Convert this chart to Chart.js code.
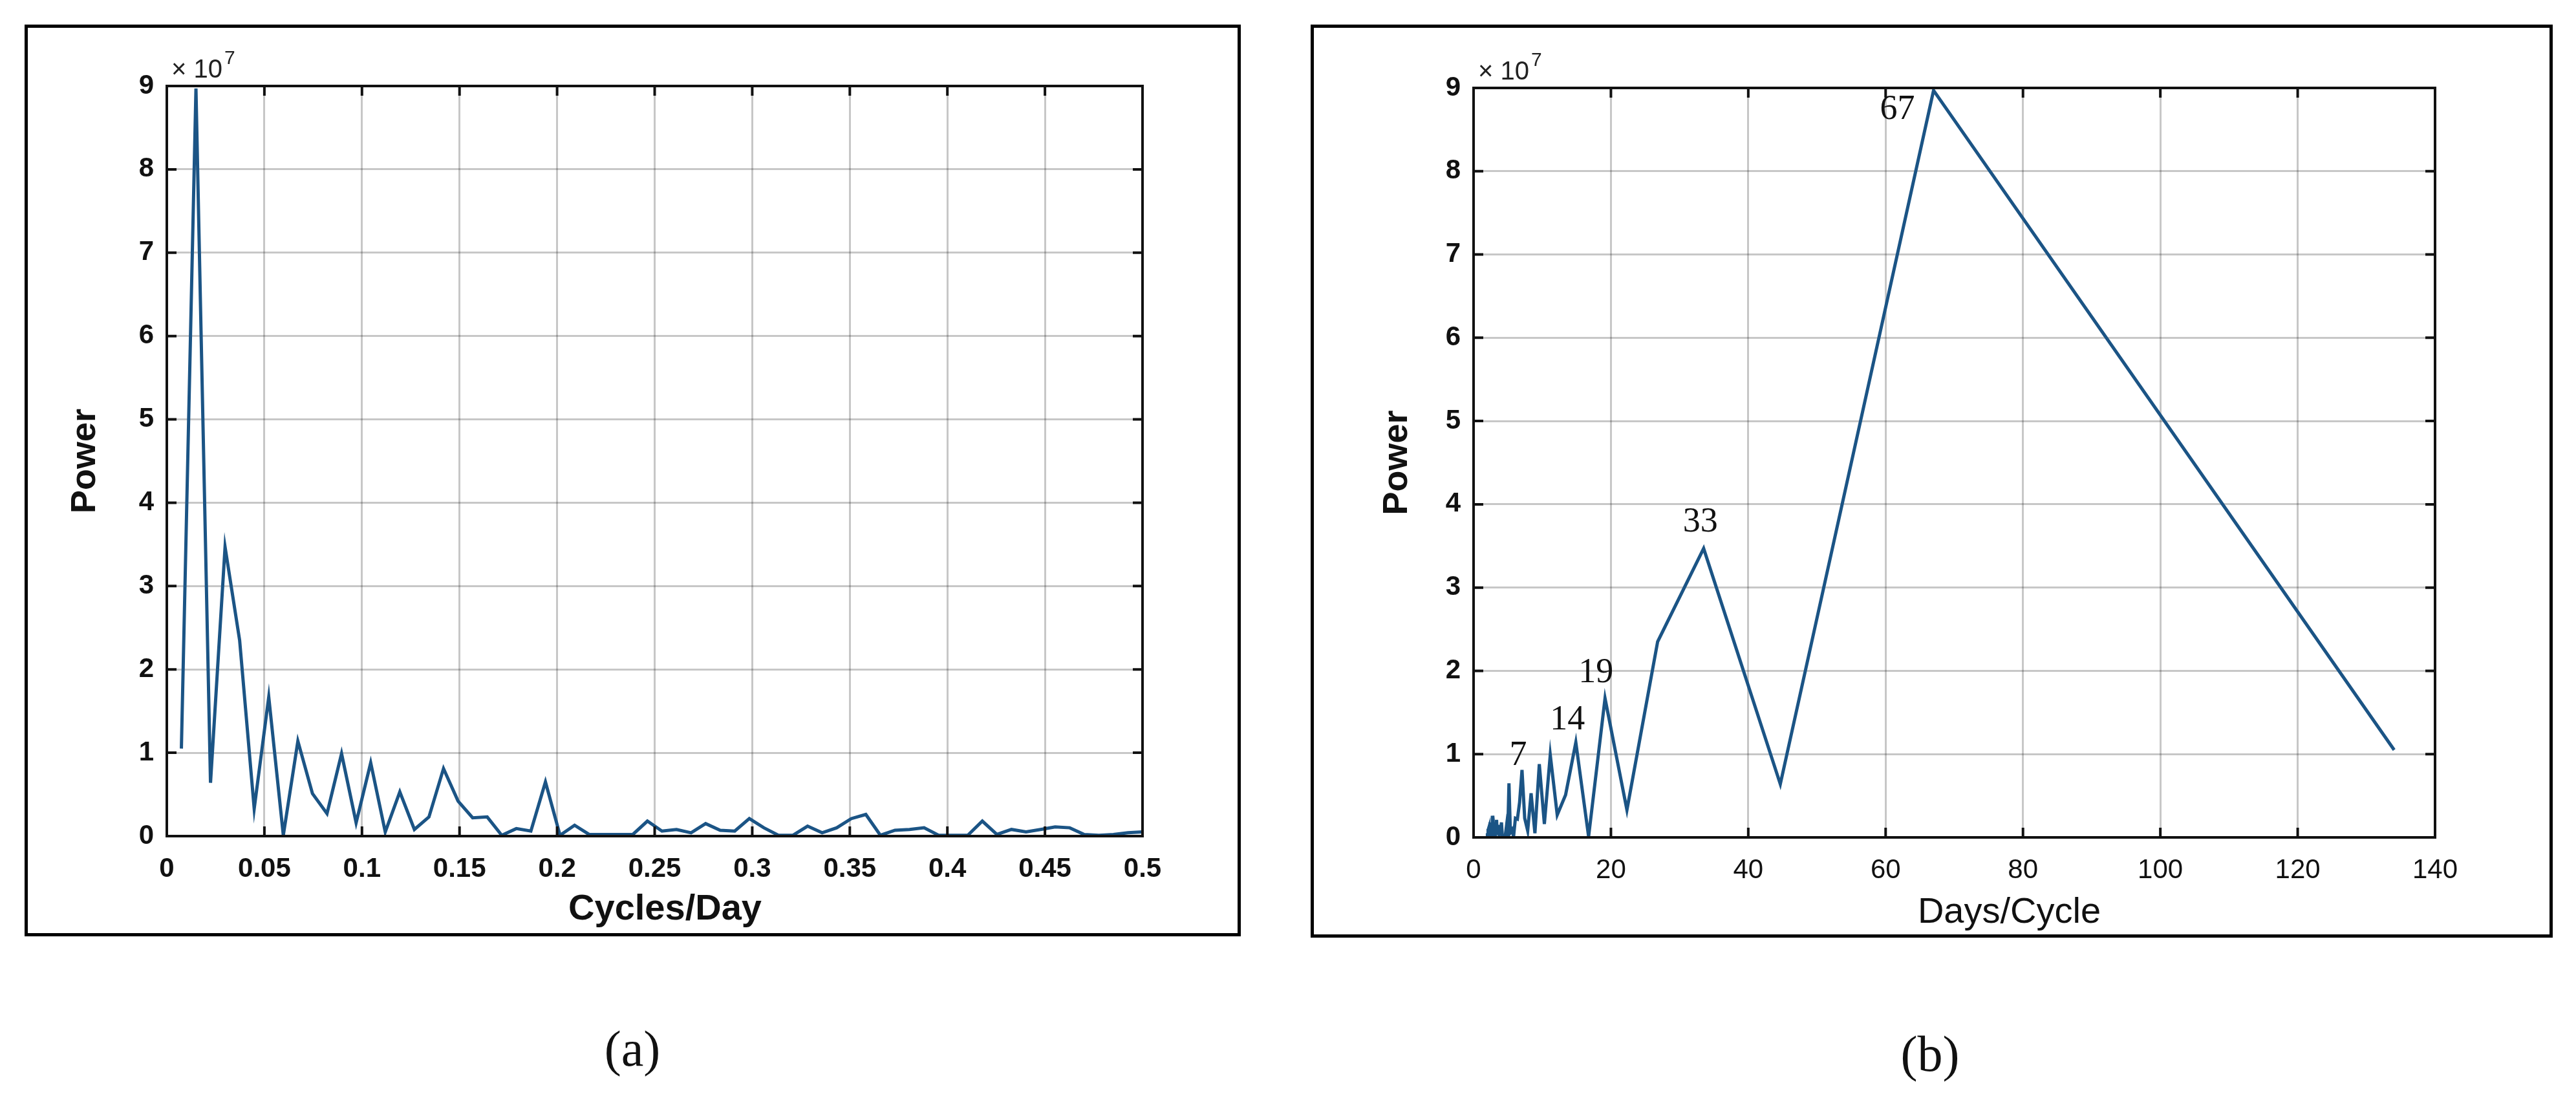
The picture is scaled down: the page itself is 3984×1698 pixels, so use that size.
<!DOCTYPE html>
<html>
<head>
<meta charset="utf-8">
<script src="https://cdn.jsdelivr.net/npm/chart.js@4.4.0/dist/chart.umd.min.js"></script>
<style>
  html, body { margin: 0; padding: 0; background: #fff; }
  body { width: 3984px; height: 1698px; position: relative; overflow: hidden; }
  .frame { position: absolute; border: 5px solid #000; box-sizing: border-box; }
  .wrap { position: absolute; top: 0; }
  .caption { position: absolute; font-family: "Liberation Serif", "Times New Roman", serif; font-size: 78px; color: #111; transform: translate(-50%, -50%); }
</style>
</head>
<body>
<div class="frame" style="left:38px;top:38px;width:1881px;height:1410px"></div>
<div class="frame" style="left:2027px;top:38px;width:1921px;height:1412px"></div>
<div class="wrap" style="left:0;width:1990px;height:1480px"><canvas id="freqChart" width="1990" height="1480" style="width:1990px;height:1480px"></canvas></div>
<div class="wrap" style="left:2000px;width:1984px;height:1480px"><canvas id="periodChart" width="1984" height="1480" style="width:1984px;height:1480px"></canvas></div>
<div class="caption" style="left:978px;top:1622px">(a)</div>
<div class="caption" style="left:2985px;top:1630px">(b)</div>
<script>
// Periodogram points, Cycles/Day
var frequencies = [
  0.00746, 0.01493, 0.02239, 0.02985, 0.03731, 0.04478, 0.05224, 0.05970, 0.06716, 0.07463,
  0.08209, 0.08955, 0.09701, 0.10448, 0.11194, 0.11940, 0.12687, 0.13433, 0.14179, 0.14925,
  0.15672, 0.16418, 0.17164, 0.17910, 0.18657, 0.19403, 0.20149, 0.20896, 0.21642, 0.22388,
  0.23134, 0.23881, 0.24627, 0.25373, 0.26119, 0.26866, 0.27612, 0.28358, 0.29104, 0.29851,
  0.30597, 0.31343, 0.32090, 0.32836, 0.33582, 0.34328, 0.35075, 0.35821, 0.36567, 0.37313,
  0.38060, 0.38806, 0.39552, 0.40299, 0.41045, 0.41791, 0.42537, 0.43284, 0.44030, 0.44776,
  0.45522, 0.46269, 0.47015, 0.47761, 0.48507, 0.49254, 0.50000
];

// Power at each frequency
var powers = [
  1.05e7, 8.97e7, 0.64e7, 3.47e7, 2.35e7, 0.33e7, 1.67e7, 0.01e7, 1.14e7, 0.51e7,
  0.27e7, 0.99e7, 0.16e7, 0.88e7, 0.05e7, 0.53e7, 0.08e7, 0.23e7, 0.81e7, 0.42e7,
  0.22e7, 0.23e7, 0.01e7, 0.09e7, 0.06e7, 0.65e7, 0.01e7, 0.13e7, 0.02e7, 0.02e7,
  0.02e7, 0.02e7, 0.18e7, 0.06e7, 0.08e7, 0.04e7, 0.15e7, 0.07e7, 0.06e7, 0.21e7,
  0.10e7, 0.01e7, 0.01e7, 0.12e7, 0.04e7, 0.10e7, 0.21e7, 0.26e7, 0.01e7, 0.07e7,
  0.08e7, 0.10e7, 0.01e7, 0.01e7, 0.01e7, 0.18e7, 0.02e7, 0.08e7, 0.05e7, 0.08e7,
  0.11e7, 0.10e7, 0.02e7, 0.01e7, 0.02e7, 0.04e7, 0.05e7
];

// Days/Cycle is just the reciprocal of Cycles/Day
var periods = frequencies.map(function(f){ return 1 / f; });

var yTickLabels = ['0', '1', '2', '3', '4', '5', '6', '7', '8', '9'];
var freqTickLabels = ['0', '0.05', '0.1', '0.15', '0.2', '0.25', '0.3', '0.35', '0.4', '0.45', '0.5'];
var periodTickLabels = ['0', '20', '40', '60', '80', '100', '120', '140'];

// labelled peaks in panel (b)
var peakLabels = ['67', '33', '19', '14', '7'];
var peakIndex = [1, 3, 6, 8, 18];

var SANS = '"Liberation Sans", Arial, sans-serif';
var SERIF = '"Liberation Serif", "Times New Roman", serif';
Chart.defaults.font.family = SANS;
Chart.defaults.color = '#111';

var peakOffsets = [[-56, 30], [-5, -40], [-14, -39], [-13, -34], [-6, -22]];

var axesDecor = {
  id: 'axesDecor',
  afterDraw: function(chart, args, opts) {
    var ctx = chart.ctx, a = chart.chartArea;
    var xs = chart.scales.x, ys = chart.scales.y;
    ctx.save();

    // box round the plot + inward ticks
    ctx.strokeStyle = '#111';
    ctx.lineWidth = 4;
    ctx.strokeRect(a.left, a.top, a.right - a.left, a.bottom - a.top);
    ctx.beginPath();
    xs.ticks.forEach(function(t){
      var px = xs.getPixelForValue(t.value);
      ctx.moveTo(px, a.bottom); ctx.lineTo(px, a.bottom - 15);
      ctx.moveTo(px, a.top); ctx.lineTo(px, a.top + 15);
    });
    ys.ticks.forEach(function(t){
      var py = ys.getPixelForValue(t.value);
      ctx.moveTo(a.left, py); ctx.lineTo(a.left + 15, py);
      ctx.moveTo(a.right, py); ctx.lineTo(a.right - 15, py);
    });
    ctx.stroke();

    // x 10^7 exponent
    ctx.fillStyle = '#222';
    ctx.textAlign = 'left';
    ctx.textBaseline = 'alphabetic';
    ctx.font = '40px ' + SANS;
    var ex = a.left + 7, ey = a.top - 13;
    ctx.fillText('\u00d7 10', ex, ey);
    var w = ctx.measureText('\u00d7 10').width;
    ctx.font = '30px ' + SANS;
    ctx.fillText('7', ex + w + 3, ey - 21);

    // x axis title
    ctx.fillStyle = '#111';
    ctx.textAlign = 'center';
    ctx.textBaseline = 'middle';
    ctx.font = opts.titleWeight + ' 56px ' + SANS;
    ctx.fillText(opts.title, (a.left + a.right) / 2 + opts.titleDx, a.bottom + opts.titleDy);

    // peak labels
    if (opts.peaks) {
      var pts = chart.getDatasetMeta(0).data;
      ctx.font = '54px ' + SERIF;
      peakLabels.forEach(function(txt, i){
        var p = pts[peakIndex[i]];
        ctx.fillText(txt, p.x + peakOffsets[i][0], p.y + peakOffsets[i][1]);
      });
    }
    ctx.restore();
  }
};

function makeChart(canvasId, xs, xMax, xStep, xLabels, xWeight, xTitle, xTitleWeight, xTitleDx, xTitleDy,
                   pad, yWidth, xHeight, powerTitlePad, peaks) {
  var points = xs.map(function(x, i){ return { x: x, y: powers[i] }; });
  return new Chart(document.getElementById(canvasId).getContext('2d'), {
    type: 'line',
    data: {
      datasets: [{
        data: points,
        borderColor: '#1b5485',
        borderWidth: 5,
        pointRadius: 0,
        tension: 0,
        fill: false
      }]
    },
    options: {
      responsive: false,
      animation: false,
      layout: { padding: pad },
      plugins: {
        legend: { display: false },
        tooltip: { enabled: false },
        axesDecor: { title: xTitle, titleWeight: xTitleWeight, titleDx: xTitleDx, titleDy: xTitleDy, peaks: peaks }
      },
      scales: {
        x: {
          type: 'linear',
          min: 0,
          max: xMax,
          border: { display: false },
          grid: { color: 'rgba(0,0,0,0.22)', lineWidth: 3, drawTicks: false },
          ticks: {
            stepSize: xStep,
            padding: 26,
            font: { size: 42, weight: xWeight },
            maxRotation: 0,
            autoSkip: false,
            callback: function(v, i){ return xLabels[i]; }
          },
          afterFit: function(s){ s.height = xHeight; }
        },
        y: {
          min: 0,
          max: 9e7,
          border: { display: false },
          grid: { color: 'rgba(0,0,0,0.22)', lineWidth: 3, drawTicks: false },
          ticks: {
            stepSize: 1e7,
            padding: 20,
            font: { size: 42, weight: 'bold' },
            callback: function(v, i){ return yTickLabels[i]; }
          },
          title: {
            display: true,
            text: 'Power',
            font: { size: 54, weight: 'bold' },
            padding: { top: powerTitlePad, bottom: 0 }
          },
          afterFit: function(s){ s.width = yWidth; }
        }
      }
    },
    plugins: [axesDecor]
  });
}

makeChart('freqChart', frequencies, 0.5, 0.05, freqTickLabels, 'bold', 'Cycles/Day', 'bold', 16, 114,
  { left: 60, right: 223, top: 133, bottom: 0 }, 198, 187, 40, false);

makeChart('periodChart', periods, 140, 20, periodTickLabels, 'normal', 'Days/Cycle', 'normal', 85, 117,
  { left: 60, right: 218, top: 136, bottom: 0 }, 219, 185, 69, true);
</script>
</body>
</html>
